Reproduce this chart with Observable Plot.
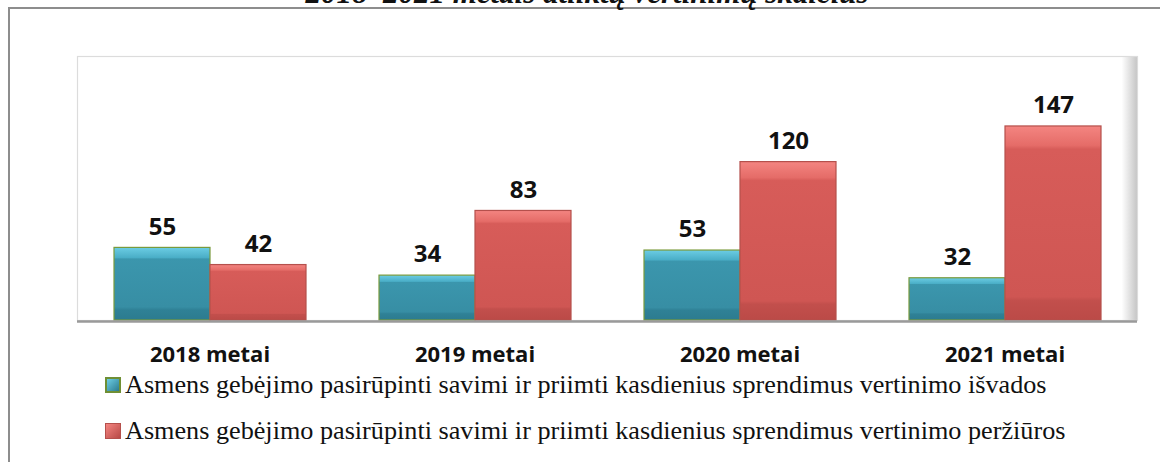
<!DOCTYPE html>
<html>
<head>
<meta charset="utf-8">
<script src="https://cdn.jsdelivr.net/npm/d3@7"></script>
<script src="https://cdn.jsdelivr.net/npm/@observablehq/plot@0.6"></script>
<style>
  html, body { margin: 0; padding: 0; background: #fff; }
  body { width: 1160px; height: 462px; position: relative; overflow: hidden; }
  #frame { position: absolute; left: 8px; top: 7px; width: 1200px; height: 500px;
           border-left: 2px solid #8d8d8d; border-top: 2px solid #8d8d8d; }
  #title { position: absolute; left: 0; width: 1174px; top: -23px; text-align: center;
           font-family: "Liberation Serif", serif; font-style: italic; font-weight: bold;
           font-size: 31px; line-height: 31px; color: #111; }
  #chart { position: absolute; left: 0; top: 0; }
  .leg { position: absolute; left: 105px; font-family: "Liberation Serif", serif; font-size: 26.2px;
         line-height: 30px; color: #111; white-space: nowrap; display: flex; align-items: center; }
  .sw { width: 16px; height: 16px; margin-right: 4px; box-sizing: border-box; }
</style>
</head>
<body>
<div id="frame"></div>
<div id="title"></div>
<div id="chart"></div>
<div class="leg" id="leg0" style="top:370px"></div>
<div class="leg" id="leg1" style="top:416px"></div>
<script>
const titleText = "2018–2021 metais atliktų vertinimų skaičius";
const years = ["2018 metai", "2019 metai", "2020 metai", "2021 metai"];
const seriesNames = [
  "Asmens gebėjimo pasirūpinti savimi ir priimti kasdienius sprendimus vertinimo išvados",
  "Asmens gebėjimo pasirūpinti savimi ir priimti kasdienius sprendimus vertinimo peržiūros"
];
const isvados = [55, 34, 53, 32];
const perziuros = [42, 83, 120, 147];

const data = [];
years.forEach((y, i) => {
  data.push({year: y, series: seriesNames[0], value: isvados[i]});
  data.push({year: y, series: seriesNames[1], value: perziuros[i]});
});

document.getElementById("title").textContent = titleText;

const fills = ["url(#gBlue)", "url(#gRed)"];
const strokes = ["#7a9a3c", "#b5504c"];

const chart = Plot.plot({
  width: 1160,
  height: 372,
  marginLeft: 75,
  marginRight: 22,
  marginTop: 56,
  marginBottom: 52,
  fx: {domain: years, padding: 0, label: null},
  x: {domain: seriesNames, paddingInner: 0, paddingOuter: 0.37, axis: null},
  y: {domain: [0, 200], axis: null},
  style: {background: "transparent"},
  marks: [
    Plot.frame({facet: "super", fill: "url(#gWall)", stroke: "#dcdcdc", strokeWidth: 1.2}),
    Plot.barY(data, {fx: "year", x: "series", y: "value",
      fill: d => fills[seriesNames.indexOf(d.series)],
      stroke: d => strokes[seriesNames.indexOf(d.series)], strokeWidth: 1.2}),
    Plot.text(data, {fx: "year", x: "series", y: "value", text: d => String(d.value),
      dy: -21, fontSize: 24, fontWeight: "bold", fontFamily: "Open Sans", fill: "#111"}),
    Plot.ruleY([0], {stroke: "#9a9a9a", strokeWidth: 2.5, dy: 1}),
    Plot.axisFx({anchor: "bottom", tickSize: 0, tickPadding: 26, fontSize: 22,
      fontWeight: "bold", fontFamily: "Open Sans", label: null, color: "#111"})
  ]
});

// gradients to imitate the bevelled bars
const defs = `
<defs>
  <linearGradient id="gBlue" x1="0" y1="0" x2="0" y2="1">
    <stop offset="0" stop-color="#6ccde4"/>
    <stop offset="0.14" stop-color="#4aaec7"/>
    <stop offset="0.16" stop-color="#3b96ad"/>
    <stop offset="0.82" stop-color="#378ea4"/>
    <stop offset="0.86" stop-color="#2f8196"/>
    <stop offset="1" stop-color="#2c7b8f"/>
  </linearGradient>
  <linearGradient id="gRed" x1="0" y1="0" x2="0" y2="1">
    <stop offset="0" stop-color="#f48581"/>
    <stop offset="0.10" stop-color="#e56c68"/>
    <stop offset="0.12" stop-color="#d75c59"/>
    <stop offset="0.88" stop-color="#cf5653"/>
    <stop offset="0.90" stop-color="#c24f4c"/>
    <stop offset="1" stop-color="#bb4a47"/>
  </linearGradient>
  <linearGradient id="gWall" x1="0" y1="0" x2="1" y2="0">
    <stop offset="0" stop-color="#ffffff"/>
    <stop offset="0.985" stop-color="#ffffff"/>
    <stop offset="1" stop-color="#c4c4c4"/>
  </linearGradient>
</defs>`;
chart.insertAdjacentHTML("afterbegin", defs);
document.getElementById("chart").appendChild(chart);

const swatchStyles = [
  "background: linear-gradient(135deg,#6ccde4,#2c7b8f); border:2px solid #6f8f34;",
  "background: linear-gradient(135deg,#f48581,#b84946); border:1px solid #b5504c;"
];
seriesNames.forEach((s, i) => {
  const el = document.getElementById("leg" + i);
  const sw = document.createElement("span");
  sw.className = "sw";
  sw.setAttribute("style", swatchStyles[i]);
  el.appendChild(sw);
  const t = document.createElement("span");
  t.textContent = s;
  el.appendChild(t);
});
</script>
</body>
</html>
